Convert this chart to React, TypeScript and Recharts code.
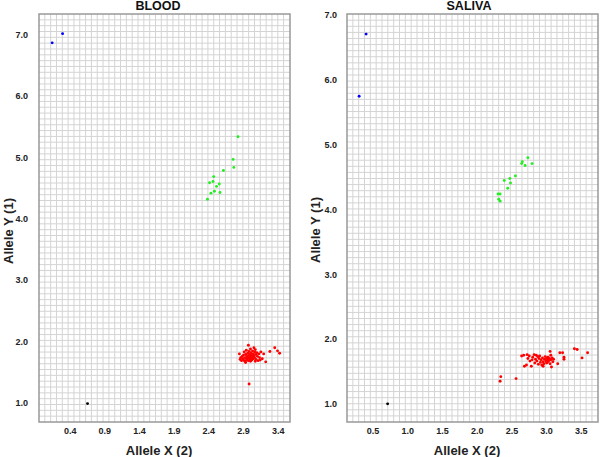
import { CartesianGrid, ReferenceArea, Scatter, ScatterChart, XAxis, YAxis } from "recharts";

type Pt = { x: number; y: number };

const FONT = "'Liberation Sans', Arial, sans-serif";

const bloodXTicks = [0.4, 0.9, 1.4, 1.9, 2.4, 2.9, 3.4];
const salivaXTicks = [0.5, 1.0, 1.5, 2.0, 2.5, 3.0, 3.5];
const yTicks = [1, 2, 3, 4, 5, 6, 7];

const bloodBlue: Pt[] = [
  { x: 0.14, y: 6.87 },
  { x: 0.29, y: 7.02 },
];
const bloodBlack: Pt[] = [{ x: 0.65, y: 0.99 }];
const bloodGreen: Pt[] = [
  [2.82, 5.34], [2.75, 4.97], [2.76, 4.84], [2.61, 4.79], [2.47, 4.69], [2.41, 4.59], [2.46, 4.61],
  [2.55, 4.57], [2.51, 4.53], [2.43, 4.42], [2.48, 4.45], [2.56, 4.43], [2.38, 4.32],
].map(([x, y]) => ({ x, y }));
const bloodRed: Pt[] = [
  [2.84, 1.80], [2.85, 1.71], [2.86, 1.74], [2.87, 1.69], [2.88, 1.76], [2.89, 1.72], [2.90, 1.78],
  [2.90, 1.70], [2.91, 1.83], [2.92, 1.74], [2.92, 1.68], [2.93, 1.79], [2.94, 1.72], [2.94, 1.86],
  [2.95, 1.76], [2.95, 1.70], [2.96, 1.81], [2.96, 1.73], [2.97, 1.94], [2.97, 1.77], [2.97, 1.69],
  [2.98, 1.84], [2.98, 1.74], [2.99, 1.79], [2.99, 1.71], [3.00, 1.88], [3.00, 1.76], [3.00, 1.68],
  [3.01, 1.82], [3.01, 1.73], [3.02, 1.78], [3.02, 1.70], [3.03, 1.85], [3.03, 1.75], [3.04, 1.80],
  [3.04, 1.72], [3.05, 1.90], [3.05, 1.77], [3.06, 1.83], [3.06, 1.74], [3.07, 1.87], [3.08, 1.79],
  [3.08, 1.71], [3.09, 1.82], [3.10, 1.76], [3.11, 1.69], [3.12, 1.80], [3.13, 1.74], [3.15, 1.83],
  [3.17, 1.72], [3.19, 1.80], [3.22, 1.67], [3.28, 1.84], [3.35, 1.90], [3.39, 1.85], [3.42, 1.81],
  [2.98, 1.31], [2.93, 1.66], [3.07, 1.68], [3.14, 1.70],
].map(([x, y]) => ({ x, y }));

const salivaBlue: Pt[] = [
  { x: 0.40, y: 6.71 },
  { x: 0.30, y: 5.75 },
];
const salivaBlack: Pt[] = [{ x: 0.71, y: 1.0 }];
const salivaGreen: Pt[] = [
  [2.73, 4.80], [2.65, 4.74], [2.64, 4.71], [2.69, 4.68], [2.79, 4.71], [2.55, 4.52], [2.47, 4.48],
  [2.39, 4.45], [2.48, 4.41], [2.44, 4.33], [2.30, 4.24], [2.33, 4.24], [2.31, 4.16], [2.33, 4.13],
].map(([x, y]) => ({ x, y }));
const salivaRed: Pt[] = [
  [2.33, 1.35], [2.34, 1.42], [2.56, 1.39], [2.64, 1.74], [2.67, 1.75], [2.68, 1.58], [2.71, 1.60],
  [2.73, 1.70], [2.75, 1.74], [2.76, 1.66], [2.78, 1.58], [2.79, 1.68], [2.80, 1.72], [2.82, 1.76],
  [2.83, 1.63], [2.84, 1.69], [2.86, 1.66], [2.87, 1.73], [2.88, 1.61], [2.89, 1.70], [2.90, 1.74],
  [2.91, 1.64], [2.92, 1.68], [2.93, 1.60], [2.94, 1.71], [2.95, 1.65], [2.96, 1.62], [2.97, 1.69],
  [2.98, 1.73], [2.99, 1.66], [3.00, 1.70], [3.01, 1.64], [3.02, 1.68], [3.02, 1.72], [3.03, 1.66],
  [3.04, 1.70], [3.05, 1.81], [3.05, 1.62], [3.06, 1.75], [3.06, 1.68], [3.07, 1.57], [3.08, 1.71],
  [3.09, 1.65], [3.10, 1.69], [3.16, 1.62], [3.19, 1.79], [3.23, 1.79], [3.25, 1.72], [3.25, 1.69],
  [3.40, 1.85], [3.44, 1.84], [3.51, 1.71], [3.59, 1.79], [2.72, 1.76], [2.85, 1.75], [2.95, 1.58],
  [3.00, 1.63],
].map(([x, y]) => ({ x, y }));

const tickStyle = { fontSize: 9, fontWeight: "bold", fill: "#222", fontFamily: FONT };

function dot(color: string) {
  return (p: any) => <circle cx={p.cx} cy={p.cy} r={1.45} fill={color} />;
}

function gridPoints(axis: any, lo: number, hi: number, step: number) {
  const s = axis?.scale;
  if (!s) return [];
  const out: number[] = [];
  for (let v = lo + step; v < hi - step / 2; v += step) {
    out.push(typeof s === "function" ? s(v) : s.map(v));
  }
  return out;
}

type PanelProps = {
  xDomain: [number, number];
  yDomain: [number, number];
  xTicks: number[];
  yAxisWidth: number;
  marginRight: number;
  yTickMargin: number;
  yStep: number;
  series: { data: Pt[]; color: string }[];
};

function Panel({ xDomain, yDomain, xTicks, yAxisWidth, marginRight, yTickMargin, yStep, series }: PanelProps) {
  return (
    <ScatterChart width={300} height={457} margin={{ top: 14, right: marginRight, bottom: 0, left: 0 }}>
      <CartesianGrid
        stroke="#d4d4d4"
        strokeWidth={1}
        verticalCoordinatesGenerator={({ xAxis }: any) => gridPoints(xAxis, xDomain[0], xDomain[1], 0.084)}
        horizontalCoordinatesGenerator={({ yAxis }: any) => gridPoints(yAxis, yDomain[0], yDomain[1], yStep)}
      />
      <XAxis
        type="number"
        dataKey="x"
        domain={xDomain}
        ticks={xTicks}
        allowDataOverflow
        height={35}
        axisLine={false}
        tickLine={false}
        tickSize={0}
        tickMargin={6}
        interval={0}
        tickFormatter={(v: number) => v.toFixed(1)}
        tick={tickStyle}
      />
      <YAxis
        type="number"
        dataKey="y"
        domain={yDomain}
        ticks={yTicks}
        allowDataOverflow
        width={yAxisWidth}
        axisLine={false}
        tickLine={false}
        tickSize={0}
        tickMargin={yTickMargin}
        interval={0}
        tickFormatter={(v: number) => v.toFixed(1)}
        tick={tickStyle}
      />
      <ReferenceArea
        x1={xDomain[0]}
        x2={xDomain[1]}
        y1={yDomain[0]}
        y2={yDomain[1]}
        fill="none"
        stroke="#999"
        strokeWidth={1.5}
      />
      {series.map((s, i) => (
        <Scatter key={i} data={s.data} shape={dot(s.color)} isAnimationActive={false} />
      ))}
    </ScatterChart>
  );
}

export default function App() {
  const titleStyle = { fontSize: 12.5, fontWeight: "bold", fill: "#111", fontFamily: FONT } as const;
  const axisStyle = { fontSize: 13, fontWeight: "bold", fill: "#222", fontFamily: FONT } as const;
  return (
    <div style={{ position: "absolute", left: 0, top: 0, width: 600, height: 457, background: "#fff" }}>
      <div style={{ position: "absolute", left: 0, top: 0 }}>
        <Panel
          xDomain={[-0.05, 3.57]}
          yDomain={[0.69, 7.34]}
          xTicks={bloodXTicks}
          yAxisWidth={39}
          marginRight={10}
          yTickMargin={11}
          yStep={0.095}
          series={[
            { data: bloodBlue, color: "#0000ff" },
            { data: bloodGreen, color: "#22ee22" },
            { data: bloodRed, color: "#ff0000" },
            { data: bloodBlack, color: "#000" },
          ]}
        />
      </div>
      <div style={{ position: "absolute", left: 300, top: 0 }}>
        <Panel
          xDomain={[0.125, 3.74]}
          yDomain={[0.72, 7.02]}
          xTicks={salivaXTicks}
          yAxisWidth={47}
          marginRight={2}
          yTickMargin={10}
          yStep={0.094}
          series={[
            { data: salivaBlue, color: "#0000ff" },
            { data: salivaGreen, color: "#22ee22" },
            { data: salivaRed, color: "#ff0000" },
            { data: salivaBlack, color: "#000" },
          ]}
        />
      </div>
      <svg width={600} height={457} style={{ position: "absolute", left: 0, top: 0, pointerEvents: "none" }}>
        <text x={158} y={9.8} textAnchor="middle" style={titleStyle}>BLOOD</text>
        <text x={469} y={9.8} textAnchor="middle" style={titleStyle}>SALIVA</text>
        <text x={159} y={455} textAnchor="middle" style={axisStyle}>Allele X (2)</text>
        <text x={467} y={455} textAnchor="middle" style={axisStyle}>Allele X (2)</text>
        <text transform="translate(12.5,231) rotate(-90)" textAnchor="middle" style={axisStyle}>Allele Y (1)</text>
        <text transform="translate(319.5,230) rotate(-90)" textAnchor="middle" style={axisStyle}>Allele Y (1)</text>
      </svg>
    </div>
  );
}
